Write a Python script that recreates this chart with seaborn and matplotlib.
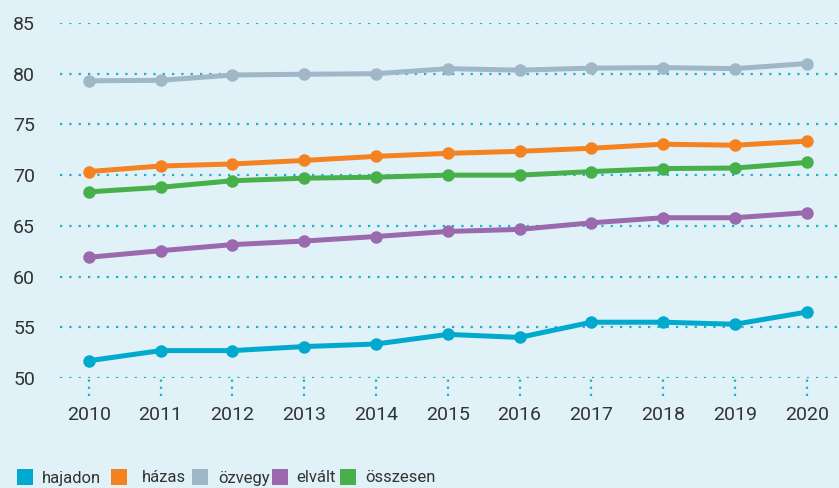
import matplotlib
matplotlib.use("Agg")
import matplotlib.pyplot as plt
import seaborn as sns
import pandas as pd
from matplotlib.lines import Line2D

years = [2010, 2011, 2012, 2013, 2014, 2015, 2016, 2017, 2018, 2019, 2020]
hajadon = [51.7, 52.7, 52.7, 53.1, 53.35, 54.3, 54.0, 55.5, 55.5, 55.3, 56.5]
hazas = [70.35, 70.9, 71.1, 71.45, 71.85, 72.15, 72.35, 72.65, 73.05, 72.95, 73.35]
ozvegy = [79.3, 79.35, 79.87, 79.95, 80.0, 80.5, 80.35, 80.55, 80.6, 80.5, 81.0]
elvalt = [61.9, 62.55, 63.15, 63.5, 63.95, 64.45, 64.65, 65.3, 65.8, 65.8, 66.3]
osszesen = [68.35, 68.8, 69.45, 69.7, 69.8, 70.0, 70.0, 70.35, 70.65, 70.7, 71.25]

series_names = ["hajadon", "házas", "özvegy", "elvált", "összesen"]
series_values = [hajadon, hazas, ozvegy, elvalt, osszesen]
colors = ["#00A9CE", "#F58220", "#A0B7C7", "#9B69AD", "#47B04B"]
y_ticks = [50, 55, 60, 65, 70, 75, 80, 85]

rows = []
for name, vals in zip(series_names, series_values):
    for y, v in zip(years, vals):
        rows.append({"year": y, "value": v, "series": name})
df = pd.DataFrame(rows)

bg = "#E0F2F7"
txt = "#333333"
grid_c = "#1AAFD0"

sns.set_theme(style="white")
plt.rcParams["font.family"] = ["Roboto", "DejaVu Sans"]

fig = plt.figure(figsize=(8.39, 4.88), dpi=100, facecolor=bg)
ax = fig.add_axes([60 / 839, (488 - 378) / 488, 1 - 60 / 839, 355 / 488])
ax.set_facecolor(bg)

for yv in y_ticks:
    ax.axhline(yv, color=grid_c, lw=1.6, linestyle=(0, (1, 3.2)), zorder=1)

sns.lineplot(data=df, x="year", y="value", hue="series", hue_order=series_names,
             palette=colors, marker="o", markersize=9, markeredgewidth=0,
             linewidth=3.6, ax=ax, legend=False, zorder=3)

ax.set_xlim(2009.6, 2020.45)
ax.set_ylim(50, 85)
ax.set_xticks(years)
ax.set_xticklabels([str(y) for y in years])
ax.set_yticks(y_ticks)
ax.tick_params(axis="both", length=0, labelsize=14, colors=txt)
ax.tick_params(axis="x", pad=20)
ax.tick_params(axis="y", pad=18)
ax.set_xlabel("")
ax.set_ylabel("")
for s in ax.spines.values():
    s.set_visible(False)

trans = ax.get_xaxis_transform()
ax.vlines(years, -0.05, 0, transform=trans, colors=grid_c, lw=1.6,
          linestyles=[(0, (1, 2.2))], clip_on=False)

# legend entries: one legend per entry, placed like the reference
fs = 12
em_px = fs * 100 / 72
sq_left = [18, 111, 192, 272, 340]
text_left = [42, 142, 218, 296, 365]
for name, c, sl, tl in zip(series_names, colors, sq_left, text_left):
    h = Line2D([], [], marker="s", linestyle="none", markersize=11,
               markerfacecolor=c, markeredgewidth=0)
    hl = 1.0
    box_left = sl + 7.5 - hl * em_px / 2
    pad = (tl - (box_left + hl * em_px)) / em_px
    leg = fig.legend([h], [name], loc="center left",
                     bbox_to_anchor=(box_left / 839, 10 / 488),
                     frameon=False, borderpad=0, borderaxespad=0,
                     handlelength=hl, handletextpad=pad,
                     prop={"family": ["Roboto", "DejaVu Sans"], "size": fs})
    for t in leg.get_texts():
        t.set_color(txt)

fig.savefig("out.png", dpi=100, facecolor=bg)
